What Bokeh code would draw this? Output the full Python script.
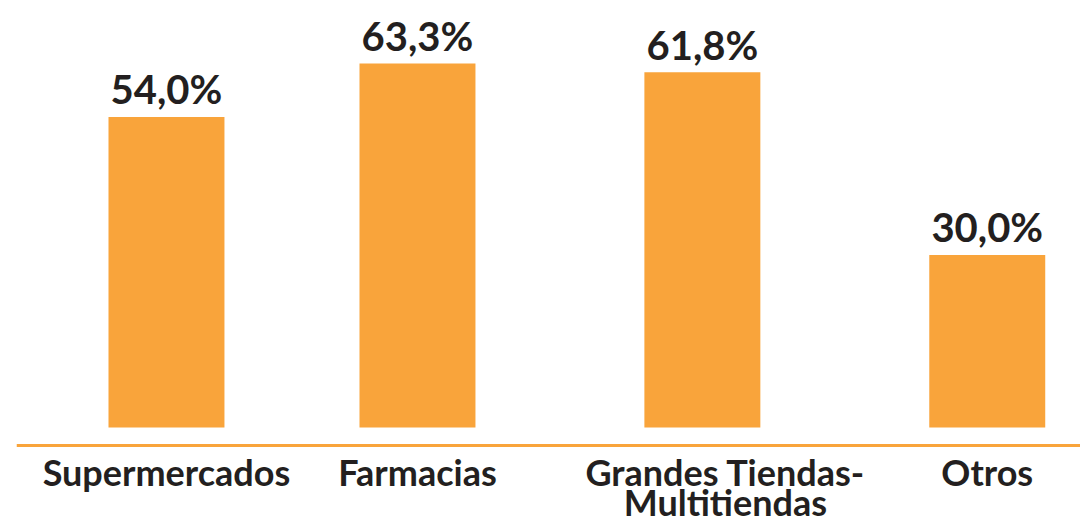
from bokeh.plotting import figure
from bokeh.models import FactorRange, Range1d, Span, ColumnDataSource
from bokeh.transform import dodge
from bokeh.core.properties import value
from bokeh.embed import file_html
from bokeh.resources import INLINE

# ---- data ----
categories = ["Supermercados", "Farmacias", "Grandes Tiendas-Multitiendas", "Otros"]
tick_labels = ["Supermercados", "Farmacias", "Grandes Tiendas-\nMultitiendas", "Otros"]
values = [54.0, 63.3, 61.8, 30.0]
value_labels = [f"{v:.1f}".replace(".", ",") + "%" for v in values]

# ---- layout / style ----
clusters = ["g1", "g1", "g2", "g3"]      # slightly wider gap before the 3rd and 4th bars
label_nudge = [0, 0, 23, 0]              # horizontal nudge (px) of the category labels
SHIFT = 0.113                             # shift of the whole bar row to the right (factor units)
ORANGE = "#F9A43B"
INK = "#231F20"
FONT = "Lato"
LABEL_GAP = 4.8                           # gap between bar top and value label (data units)
AXIS_Y = -3.13                            # position of the orange base line
CAT_Y = -4.0                              # top of category label block

factors = list(zip(clusters, categories))
x_range = FactorRange(*factors, group_padding=0.135, factor_padding=0.0,
                      range_padding=-0.0155, range_padding_units="absolute")
y_range = Range1d(-16.87, 74.26)

p = figure(width=1080, height=524, x_range=x_range, y_range=y_range,
           output_backend="svg", toolbar_location=None,
           x_axis_location=None, y_axis_location=None,
           min_border_left=16, min_border_right=0, min_border_top=0, min_border_bottom=0)
p.outline_line_color = None
p.xgrid.visible = False
p.ygrid.visible = False
p.background_fill_color = "white"
p.border_fill_color = "white"

src = ColumnDataSource(dict(
    x=factors,
    top=values,
    vlabel=value_labels,
    vlabel_y=[v + LABEL_GAP for v in values],
    clabel=tick_labels,
    clabel_y=[CAT_Y] * len(categories),
    nudge=label_nudge,
))

xpos = dodge("x", SHIFT, range=x_range)

p.vbar(x=xpos, top="top", bottom=0, width=0.462, source=src,
       fill_color=ORANGE, line_color=None)

p.add_layout(Span(location=AXIS_Y, dimension="width", line_color=ORANGE, line_width=3))

p.text(x=xpos, y="vlabel_y", text="vlabel", source=src,
       text_font=value(FONT), text_font_style="bold", text_font_size="40px",
       text_color=INK, text_align="center", text_baseline="alphabetic")

p.text(x=xpos, y="clabel_y", text="clabel", source=src, x_offset="nudge",
       text_font=value(FONT), text_font_style="bold", text_font_size="36px",
       text_color=INK, text_align="center", text_baseline="top",
       text_line_height=0.68)

open("out.html", "w").write(file_html(p, INLINE))
